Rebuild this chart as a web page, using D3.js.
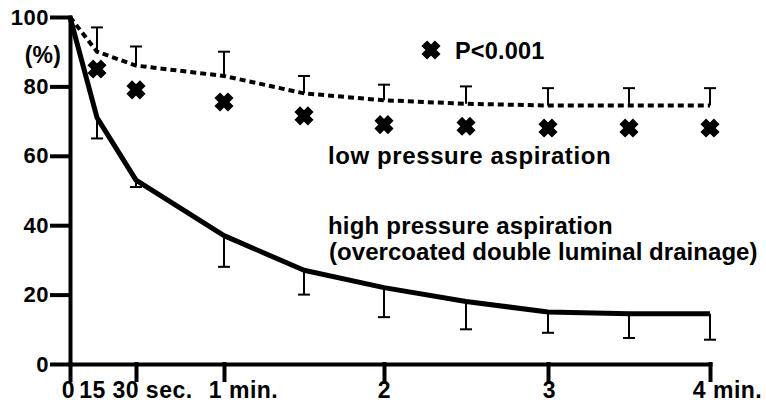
<!DOCTYPE html>
<html>
<head>
<meta charset="utf-8">
<script src="https://cdn.jsdelivr.net/npm/d3@7"></script>
<style>
  body { margin: 0; background: #fff; }
  svg { display: block; font-family: "Liberation Sans", Arial, sans-serif; font-weight: bold; }
  .axis path, .axis line { stroke: #000; stroke-width: 4; stroke-linecap: square; }
  .axis text { fill: #000; font-weight: bold; }
  .y-axis text { font-size: 22px; letter-spacing: 0.5px; }
  .x-axis text { font-size: 23px; letter-spacing: 0.5px; }
  .label { font-size: 24px; letter-spacing: 0.2px; fill: #000; }
</style>
</head>
<body>
<svg id="chart"></svg>
<script>
  // time after start (sec)
  const times = [0, 15, 30, 60, 90, 120, 150, 180, 210, 240];

  // low pressure aspiration (dotted), SD drawn upward
  const lowMean = [100, 90, 86, 83, 78, 76, 75, 74.5, 74.5, 74.5];
  const lowSD   = [0, 7, 5.5, 7, 5, 4.5, 5, 5, 5, 5];

  // high pressure aspiration (solid), SD drawn downward
  const highMean = [100, 71, 53, 37, 27, 22, 18, 15, 14.5, 14.5];
  const highSD   = [0, 6, 2, 9, 7, 8.5, 8, 6, 7, 7.5];

  // significance markers (* P<0.001)
  const starTimes = [15, 30, 60, 90, 120, 150, 180, 210, 240];
  const starVals  = [85, 79, 75.5, 71.5, 69, 68.5, 68, 68, 68];

  const yTicks = [0, 20, 40, 60, 80, 100];
  const xTicks = [0, 15, 30, 60, 120, 180, 240];
  const xTickLabels = ["0", "15", "30 sec.", "1 min.", "2", "3", "4 min."];

  const W = 766, H = 409;
  const svg = d3.select("#chart").attr("width", W).attr("height", H);

  // axis is not evenly spaced in the original: piecewise scale
  const x = d3.scaleLinear()
    .domain([0, 15, 30, 60, 120, 180, 240])
    .range([70, 97, 136, 224, 384, 548, 710]);
  const y = d3.scaleLinear().domain([0, 100]).range([364, 17]);

  // y axis
  svg.append("g").attr("class", "axis y-axis")
    .attr("transform", `translate(${x(0)},0)`)
    .call(d3.axisLeft(y).tickValues(yTicks).tickSize(18).tickSizeOuter(0).tickPadding(3));

  // x axis (labels with units sit a little right of their tick)
  const shift = { "0": -2, "15": -5, "30 sec.": 16, "1 min.": 19, "3": 1, "4 min.": 17 };
  const gx = svg.append("g").attr("class", "axis x-axis")
    .attr("transform", `translate(0,${y(0)})`)
    .call(d3.axisBottom(x).tickValues(xTicks).tickSize(16).tickSizeOuter(0).tickPadding(2)
      .tickFormat((d, i) => xTickLabels[i]));
  gx.selectAll(".tick line").filter((d) => d === 15).remove();
  gx.selectAll(".tick text").attr("dx", (d, i) => shift[xTickLabels[i]] || 0);

  svg.append("text").attr("class", "label").style("font-size", "23px")
    .attr("x", 61).attr("y", 63).attr("text-anchor", "end").text("(%)");

  const lowData = times.map((t, i) => ({ t, m: lowMean[i], sd: lowSD[i] }));
  const highData = times.map((t, i) => ({ t, m: highMean[i], sd: highSD[i] }));

  const line = d3.line().x((d) => x(d.t)).y((d) => y(d.m));

  svg.append("path").datum(highData)
    .attr("d", line).attr("fill", "none")
    .attr("stroke", "#000").attr("stroke-width", 5).attr("stroke-linejoin", "round");

  svg.append("path").datum(lowData)
    .attr("d", line).attr("fill", "none")
    .attr("stroke", "#000").attr("stroke-width", 4).attr("stroke-dasharray", "6,4");

  // error bars
  function errorBars(data, dir) {
    const g = svg.append("g").attr("stroke", "#000").attr("stroke-width", 2);
    data.filter((d) => d.sd > 0).forEach((d) => {
      const end = y(d.m + dir * d.sd);
      g.append("line").attr("x1", x(d.t)).attr("x2", x(d.t))
        .attr("y1", y(d.m)).attr("y2", end);
      g.append("line").attr("x1", x(d.t) - 6).attr("x2", x(d.t) + 6)
        .attr("y1", end).attr("y2", end);
    });
  }
  errorBars(lowData, 1);
  errorBars(highData, -1);

  // stars
  const star = d3.symbol().type(d3.symbolTimes).size(120);
  const drawStar = (sel) => sel.attr("d", star).attr("fill", "none")
    .attr("stroke", "#000").attr("stroke-width", 8);
  svg.append("g").selectAll("path")
    .data(starTimes.map((t, i) => ({ t, v: starVals[i] })))
    .join("path")
    .attr("transform", (d) => `translate(${x(d.t)},${y(d.v)})`)
    .call(drawStar);

  // legend / annotations
  svg.append("path").attr("transform", "translate(431,50)").call(drawStar);
  svg.append("text").attr("class", "label").style("font-size", "23.5px")
    .attr("x", 455).attr("y", 59).text("P<0.001");

  svg.append("text").attr("class", "label").style("letter-spacing", "0.6px")
    .attr("x", 328).attr("y", 164).text("low pressure aspiration");
  svg.append("text").attr("class", "label").attr("x", 328).attr("y", 234)
    .text("high pressure aspiration");
  svg.append("text").attr("class", "label").style("letter-spacing", "0.05px")
    .attr("x", 329).attr("y", 260).text("(overcoated double luminal drainage)");
</script>
</body>
</html>
